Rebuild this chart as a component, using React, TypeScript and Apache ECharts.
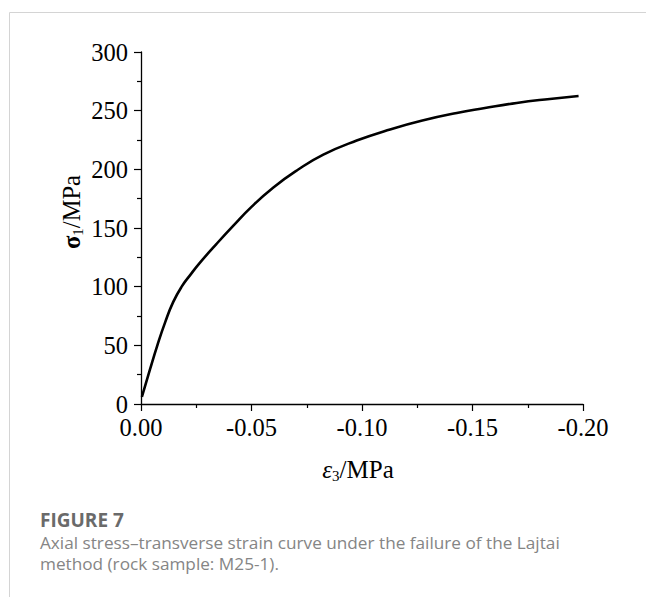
import React, { useEffect, useRef } from "react";
import * as echarts from "echarts";

const strainX: number[] = [-0.0004, -0.004, -0.0074, -0.011, -0.0146, -0.0184, -0.0225, -0.0267, -0.0342, -0.0418, -0.05, -0.0599, -0.0705, -0.0825, -0.0976, -0.1127, -0.1278, -0.1429, -0.155, -0.17, -0.185, -0.198];
const stressY: number[] = [6, 29, 50, 70, 87, 100, 110.5, 120.5, 136.5, 152, 168, 184.5, 199, 212.5, 224.5, 234, 241.8, 248, 252, 256.6, 260, 262.5];
const xTicks = { min: -0.2, max: 0, interval: 0.05 };
const yTicks = { min: 0, max: 300, interval: 50 };
const figureLabel = "FIGURE 7";
const captionLines = [
  "Axial stress\u2013transverse strain curve under the failure of the Lajtai",
  "method (rock sample: M25-1).",
];

const SERIF = "'Liberation Serif', 'Times New Roman', serif";
const SANS = "'Open Sans', 'Noto Sans', sans-serif";

export default function App() {
  const ref = useRef<HTMLDivElement>(null);
  useEffect(() => {
    document.body.style.margin = "0";
    const chart = echarts.init(ref.current!, null, { renderer: "svg" });
    const data = strainX.map((x, i) => [x, stressY[i]]);
    chart.setOption({
      animation: false,
      backgroundColor: "#ffffff",
      grid: { left: 141, top: 52, width: 442, height: 352, containLabel: false },
      xAxis: {
        type: "value",
        inverse: true,
        min: xTicks.min,
        max: xTicks.max,
        interval: xTicks.interval,
        axisLine: { show: true, onZero: false, lineStyle: { color: "#000", width: 1.3 } },
        axisTick: { show: true, inside: false, length: 7, lineStyle: { color: "#000", width: 1.2 } },
        minorTick: { show: true, splitNumber: 2, length: 4, lineStyle: { color: "#000", width: 1.2 } },
        splitLine: { show: false },
        axisLabel: {
          color: "#000",
          fontFamily: SERIF,
          fontSize: 24.5,
          margin: 11,
          formatter: (v: number) => (Math.abs(v) < 1e-9 ? "0.00" : v.toFixed(2)),
        },
      },
      yAxis: {
        type: "value",
        min: yTicks.min,
        max: yTicks.max,
        interval: yTicks.interval,
        axisLine: { show: true, onZero: false, lineStyle: { color: "#000", width: 1.3 } },
        axisTick: { show: true, inside: false, length: 7, lineStyle: { color: "#000", width: 1.2 } },
        minorTick: { show: true, splitNumber: 2, length: 4, lineStyle: { color: "#000", width: 1.2 } },
        splitLine: { show: false },
        axisLabel: { color: "#000", fontFamily: SERIF, fontSize: 24.5, margin: 13 },
      },
      series: [
        {
          type: "line",
          data,
          smooth: 0.5,
          showSymbol: false,
          lineStyle: { color: "#000", width: 2.6 },
        },
      ],
      graphic: [
        {
          type: "polyline",
          shape: { points: [[9.5, 597], [9.5, 12.5], [646, 12.5]] },
          style: { stroke: "#d4d4d4", lineWidth: 1, fill: null },
        },
        {
          type: "text",
          x: 358,
          y: 469,
          style: {
            text: "{e|\u03b5}{s|3}{n|/MPa}",
            align: "center",
            verticalAlign: "middle",
            rich: {
              e: { fontFamily: SERIF, fontSize: 25, fontStyle: "italic", lineHeight: 28, fill: "#000" },
              s: { fontFamily: SERIF, fontSize: 15, lineHeight: 10, verticalAlign: "bottom", fill: "#000" },
              n: { fontFamily: SERIF, fontSize: 25, lineHeight: 28, fill: "#000" },
            },
          },
        },
        {
          type: "text",
          x: 71,
          y: 212,
          rotation: Math.PI / 2,
          style: {
            text: "{g|\u03c3}{s|1}{n|/MPa}",
            align: "center",
            verticalAlign: "middle",
            rich: {
              g: { fontFamily: SERIF, fontSize: 24.5, fontWeight: "bold", lineHeight: 28, fill: "#000" },
              s: { fontFamily: SERIF, fontSize: 15, lineHeight: 10, verticalAlign: "bottom", fill: "#000" },
              n: { fontFamily: SERIF, fontSize: 24.5, lineHeight: 28, fill: "#000" },
            },
          },
        },
        {
          type: "text",
          x: 40,
          y: 520,
          style: {
            text: figureLabel,
            fontFamily: SANS,
            fontSize: 19,
            fontWeight: "bold",
            fill: "#6a6a6a",
            verticalAlign: "middle",
          },
        },
        {
          type: "text",
          x: 40,
          y: 542,
          style: {
            text: captionLines[0],
            fontFamily: SANS,
            fontSize: 17.2,
            lineHeight: 18,
            fill: "#858585",
            verticalAlign: "middle",
          },
        },
        {
          type: "text",
          x: 40,
          y: 563,
          style: {
            text: captionLines[1],
            fontFamily: SANS,
            fontSize: 17.2,
            lineHeight: 18,
            fill: "#858585",
            verticalAlign: "middle",
          },
        },
      ],
    });
    return () => chart.dispose();
  }, []);
  return <div ref={ref} style={{ position: "absolute", left: 0, top: 0, width: 646, height: 599 }} />;
}
